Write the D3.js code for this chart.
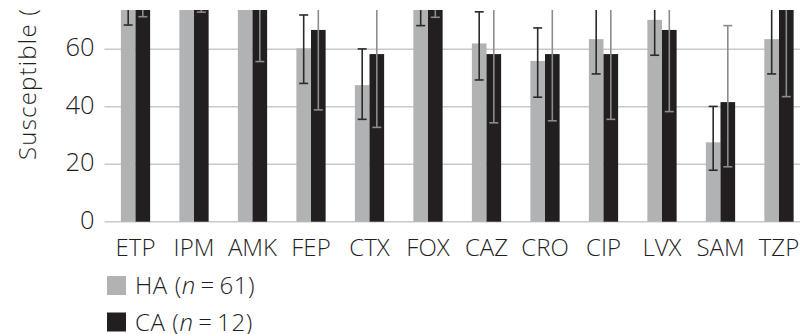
<!DOCTYPE html>
<html>
  <head>
    <script type="text/javascript" src="https://cdn.jsdelivr.net/npm/d3@7/dist/d3.min.js"></script>
    <style>
      body { margin: 0; background: #fff; }
      text { font-family: "Open Sans", "Noto Sans", sans-serif; font-weight: 350; fill: #1f1f1f; }
    </style>
  </head>
  <body>
  <script type='text/javascript'>

    // data
    var categories = ["ETP", "IPM", "AMK", "FEP", "CTX", "FOX", "CAZ", "CRO", "CIP", "LVX", "SAM", "TZP"];
    var haValues = [78.7, 95.1, 95.1, 60.3, 47.5, 78.7, 62.0, 55.9, 63.5, 70.2, 27.6, 63.5];
    var haLow    = [68.4, 86.0, 86.0, 48.1, 35.6, 68.2, 49.3, 43.3, 51.4, 57.9, 17.9, 51.4];
    var haHigh   = [87.0, 98.5, 98.5, 71.9, 60.1, 87.0, 73.0, 67.4, 75.0, 80.0, 40.1, 75.0];
    var caValues = [91.7, 100, 83.3, 66.7, 58.3, 91.7, 58.3, 58.3, 58.3, 66.7, 41.6, 75.0];
    var caLow    = [71.3, 72.9, 55.7, 38.9, 32.8, 71.1, 34.4, 35.1, 35.6, 38.3, 19.1, 43.5];
    var caHigh   = [98.5, 100, 96.0, 87.0, 80.0, 98.5, 80.0, 80.0, 80.0, 87.0, 68.2, 93.0];
    var yTicks = [0, 20, 40, 60, 80];
    var seriesNames = ["HA", "CA"];
    var seriesN = [61, 12];

    var W = 800, H = 334;
    var GRAY = "#b1b2b4", BLACK = "#231f20";

    var svg = d3.select("body").append("svg")
        .attr("width", W)
        .attr("height", H);

    svg.append("clipPath").attr("id", "crop")
      .append("rect")
        .attr("x", 0).attr("y", 10)
        .attr("width", W).attr("height", H - 10);

    var g = svg.append("g").attr("clip-path", "url(#crop)");

    var y = d3.scaleLinear()
        .domain([0, 100])
        .range([221.7, 221.7 - 287.5]);

    var x = d3.scaleBand()
        .domain(categories)
        .range([104.5, 810])
        .paddingInner(0.5)
        .paddingOuter(0.28);

    var sub = d3.scaleBand()
        .domain(seriesNames)
        .range([0, x.bandwidth()]);

    // grid
    g.selectAll(".grid")
      .data(yTicks)
      .enter().append("line")
        .attr("x1", 104.5)
        .attr("x2", W)
        .attr("y1", function(d){ return y(d); })
        .attr("y2", function(d){ return y(d); })
        .attr("stroke", "#c9c9c9")
        .attr("stroke-width", 1.5);

    g.selectAll(".tick")
      .data(yTicks)
      .enter().append("text")
        .attr("x", 94.5)
        .attr("y", function(d){ return y(d); })
        .attr("dy", "0.28em")
        .attr("text-anchor", "end")
        .style("font-size", "25.5px")
        .text(function(d){ return d; });

    var series = [
      {name: "HA", vals: haValues, lo: haLow, hi: haHigh, fill: GRAY, err: "#2a2a2a"},
      {name: "CA", vals: caValues, lo: caLow, hi: caHigh, fill: BLACK, err: "#8c8c8c"}
    ];

    series.forEach(function(s){
      var cx = function(i){ return x(categories[i]) + sub(s.name) + sub.bandwidth() / 2; };

      g.selectAll(".bar-" + s.name)
        .data(s.vals)
        .enter().append("rect")
          .attr("x", function(d, i){ return x(categories[i]) + sub(s.name); })
          .attr("width", sub.bandwidth())
          .attr("y", function(d){ return y(d); })
          .attr("height", function(d){ return y(0) - y(d); })
          .attr("fill", s.fill);

      var eb = g.selectAll(".err-" + s.name)
        .data(s.vals)
        .enter().append("g")
          .attr("stroke", s.err)
          .attr("stroke-width", 1.6);

      eb.append("line")
        .attr("x1", function(d, i){ return cx(i); })
        .attr("x2", function(d, i){ return cx(i); })
        .attr("y1", function(d, i){ return y(s.lo[i]); })
        .attr("y2", function(d, i){ return y(s.hi[i]); });

      [s.lo, s.hi].forEach(function(arr){
        eb.append("line")
          .attr("x1", function(d, i){ return cx(i) - 4.5; })
          .attr("x2", function(d, i){ return cx(i) + 4.5; })
          .attr("y1", function(d, i){ return y(arr[i]); })
          .attr("y2", function(d, i){ return y(arr[i]); });
      });
    });

    // x labels
    g.selectAll(".xlab")
      .data(categories)
      .enter().append("text")
        .attr("x", function(d){ return x(d) + x.bandwidth() / 2; })
        .attr("y", 255.5)
        .attr("text-anchor", "middle")
        .style("font-size", "24px")
        .text(function(d){ return d; });

    // y label
    g.append("text")
      .attr("transform", "translate(36,160) rotate(-90)")
      .attr("text-anchor", "start")
      .style("font-size", "24px")
      .style("letter-spacing", "1.2px")
      .text("Susceptible (%)");

    // legend
    var leg = g.selectAll(".leg")
      .data(series)
      .enter().append("g")
        .attr("transform", function(d, i){ return "translate(107," + (276 + i * 36.5) + ")"; });

    leg.append("rect")
      .attr("width", 19)
      .attr("height", 19)
      .attr("fill", function(d){ return d.fill; });

    var lt = leg.append("text")
      .attr("x", 28)
      .attr("y", 18)
      .style("font-size", "24px")
      .style("letter-spacing", "0.6px");
    lt.append("tspan").text(function(d, i){ return seriesNames[i] + " ("; });
    lt.append("tspan").style("font-style", "italic").text("n");
    lt.append("tspan").text(function(d, i){ return "\u2009=\u2009" + seriesN[i] + ")"; });

  </script>
  </body>
</html>
